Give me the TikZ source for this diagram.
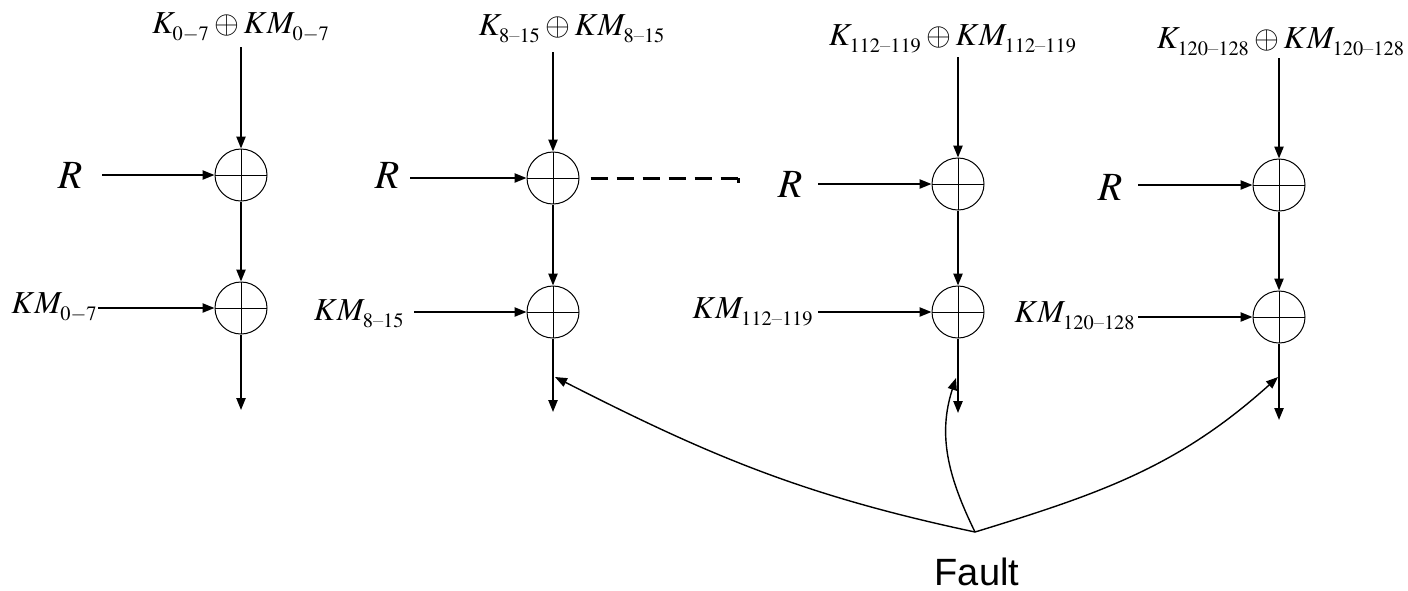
\documentclass[tikz,border=0pt]{standalone}
\usepackage{amsmath}
\usepackage{mathptmx}
\usepackage[no-math]{fontspec}
\newfontfamily\faultfont{Liberation Sans}
\usetikzlibrary{arrows.meta,positioning}
\DeclareMathSizes{16}{16}{10.2}{8}
\DeclareMathSizes{20}{20}{13}{10}
\newcommand{\rng}[1]{_{\raisebox{-1.3pt}{$\scriptstyle #1$}}}

\begin{document}
\begin{tikzpicture}[x=0.5pt, y=0.5pt,
  xorop/.style={draw, circle, minimum size=26pt, inner sep=0pt, line width=0.5pt,
    path picture={\draw[line width=0.5pt]
      (path picture bounding box.north) -- (path picture bounding box.south)
      (path picture bounding box.west) -- (path picture bounding box.east);}},
  edge/.style={-{Triangle[length=6pt, width=4.6pt]}, line width=0.9pt},
  hit/.style={-{Triangle[length=6pt, width=4.6pt]}, line width=0.7pt},
  keylab/.style={font=\fontsize{16}{18}\selectfont, inner sep=0pt, anchor=base},
  kmlab/.style={keylab, anchor=base east},
  rlab/.style={font=\fontsize{20}{22}\selectfont, inner sep=0pt, anchor=base},
  dots/.style={line width=1.5pt, dash pattern=on 8.5pt off 4.5pt}]
  \useasboundingbox (0,0) rectangle (1408,-590);
  \node[xorop] (top1) at (241,-175) {};
  \node[xorop] (bot1) at (241,-308) {};
  \node[xorop] (top2) at (553,-178) {};
  \node[xorop] (bot2) at (553,-312) {};
  \node[xorop] (top3) at (958,-184) {};
  \node[xorop] (bot3) at (958,-312) {};
  \node[xorop] (top4) at (1279,-185) {};
  \node[xorop] (bot4) at (1279,-317) {};
  \node[keylab] (key1) at (241,-33) {$K\rng{0-7}\oplus KM\rng{0-7}$};
  \node[keylab] (key2) at (572,-35) {$K\rng{8\text{--}15}\oplus KM\rng{8\text{--}15}$};
  \node[keylab] (key3) at (953,-45) {$K\rng{112\text{--}119}\oplus KM\rng{112\text{--}119}$};
  \node[keylab] (key4) at (1281,-48) {$K\rng{120\text{--}128}\oplus KM\rng{120\text{--}128}$};
  \node[rlab] (r1) at (70,-188) {$R$};
  \node[rlab] (r2) at (387,-188) {$R$};
  \node[rlab] (r3) at (790,-197) {$R$};
  \node[rlab] (r4) at (1110,-200) {$R$};
  \node[kmlab] (km1) at (98,-313) {$KM\rng{0-7}$};
  \node[kmlab] (km2) at (405,-320) {$KM\rng{8\text{--}15}$};
  \node[kmlab] (km3) at (814,-318) {$KM\rng{112\text{--}119}$};
  \node[kmlab] (km4) at (1136,-322) {$KM\rng{120\text{--}128}$};
  \node[font=\faultfont\fontsize{19}{21}\selectfont, inner sep=0pt, text depth=0pt, anchor=base] (fault) at (977,-585) {Fault};
  \coordinate (tin1) at (241,-47);
  \coordinate (tin2) at (553,-52);
  \coordinate (tin3) at (958,-57);
  \coordinate (tin4) at (1279,-58);
  \coordinate (rin1) at (102,-175);
  \coordinate (rin2) at (410,-178);
  \coordinate (rin3) at (818,-184);
  \coordinate (rin4) at (1138,-185);
  \coordinate (kin1) at (98,-308);
  \coordinate (kin2) at (414,-312);
  \coordinate (kin3) at (818,-312);
  \coordinate (kin4) at (1138,-317);
  \coordinate (out1) at (241,-410);
  \coordinate (out2) at (553,-412);
  \coordinate (out3) at (958,-413);
  \coordinate (out4) at (1279,-420);
  \coordinate (hit2) at (555,-377);
  \coordinate (hit3) at (956,-378);
  \coordinate (hit4) at (1278,-377);
  \coordinate (fj) at (975,-532);
  \coordinate (dend) at (738,-178);
  \draw[edge] (tin1) -- (top1);
  \draw[edge] (tin2) -- (top2);
  \draw[edge] (tin3) -- (top3);
  \draw[edge] (tin4) -- (top4);
  \draw[edge] (rin1) -- (top1);
  \draw[edge] (rin2) -- (top2);
  \draw[edge] (rin3) -- (top3);
  \draw[edge] (rin4) -- (top4);
  \draw[edge] (top1) -- (bot1);
  \draw[edge] (top2) -- (bot2);
  \draw[edge] (top3) -- (bot3);
  \draw[edge] (top4) -- (bot4);
  \draw[edge] (kin1) -- (bot1);
  \draw[edge] (kin2) -- (bot2);
  \draw[edge] (kin3) -- (bot3);
  \draw[edge] (kin4) -- (bot4);
  \draw[edge] (bot1) -- (out1);
  \draw[edge] (bot2) -- (out2);
  \draw[edge] (bot3) -- (out3);
  \draw[edge] (bot4) -- (out4);
  \draw[dots] ([xshift=5.5pt]top2.east) -- (dend);
  \draw[line width=1.5pt] (dend) -- ++(0,-5);
  \draw[hit] (fj) to[out=168, in=-27] (hit2);
  \draw[hit] (fj) to[out=116, in=-108] (hit3);
  \draw[hit] (fj) to[out=17, in=-138] (hit4);
\end{tikzpicture}
\end{document}
